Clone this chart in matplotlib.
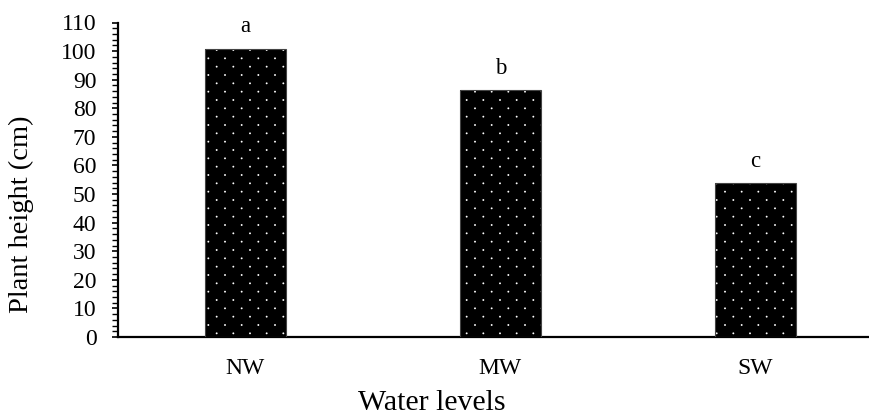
import numpy as np
import matplotlib
matplotlib.use("Agg")
import matplotlib.pyplot as plt
import matplotlib.hatch as mhatch
from matplotlib.path import Path
from matplotlib.ticker import MultipleLocator

# ---- data ----
categories = ["NW", "MW", "SW"]
heights = [100.8, 86.3, 53.8]
letters = ["a", "b", "c"]
y_ticks = list(range(0, 111, 10))

# ---- custom dot hatch (diamond lattice like the reference) ----
class DotLattice(mhatch.HatchPatternBase):
    radius = 0.0095

    def __init__(self, hatch, density):
        self.ncols = hatch.count('.') * 6
        self.nrows = self.ncols * 2
        self.circ = Path.unit_circle()
        if self.ncols == 0:
            self.num_vertices = 0
        else:
            n_even = self.nrows // 2 + 1
            n_odd = self.nrows // 2
            self.num_shapes = n_even * (self.ncols + 1) + n_odd * self.ncols
            self.num_vertices = self.num_shapes * len(self.circ.vertices)

    def set_vertices_and_codes(self, vertices, codes):
        step = 1.0 / self.ncols
        rstep = 1.0 / self.nrows
        sv = self.circ.vertices * self.radius
        vparts, cparts = [], []
        for row in range(self.nrows + 1):
            if row % 2 == 0:
                cols = np.linspace(0, 1, self.ncols + 1)
            else:
                cols = np.linspace(step / 2, 1 - step / 2, self.ncols)
            for c in cols:
                vparts.append(sv + [c, row * rstep])
                cparts.append(self.circ.codes)
        np.concatenate(vparts, out=vertices)
        np.concatenate(cparts, out=codes)

mhatch._hatch_types = [DotLattice if t is mhatch.SmallFilledCircles else t
                       for t in mhatch._hatch_types]

plt.rcParams['font.family'] = ['Liberation Serif', 'DejaVu Serif']
plt.rcParams['hatch.color'] = 'white'
plt.rcParams['hatch.linewidth'] = 0.0

fig = plt.figure(figsize=(8.70, 4.16), dpi=100)
ax = fig.add_axes([118/870, 1 - 337/416, 752/870, (337 - 22.5)/416])

x = np.arange(len(categories))
bw = 0.32
ax.bar(x, heights, width=bw, color='black', hatch='.', linewidth=0, zorder=2)
ax.bar(x, heights, width=bw, fill=False, edgecolor='#444444', linewidth=0.8, zorder=3)

for xi, h, l in zip(x, heights, letters):
    ax.annotate(l, (xi, h), xytext=(0, 12), textcoords='offset points',
                ha='center', va='baseline', fontsize=16.5)

ax.set_xlim(-0.5, 2.45)
ax.set_ylim(0, 110)
ax.set_yticks(y_ticks)
ax.yaxis.set_minor_locator(MultipleLocator(2))
ax.set_xticks(x)
ax.set_xticklabels(categories)

ax.tick_params(axis='y', which='major', direction='out', length=4.5, width=1.2,
               labelsize=17, pad=11)
ax.tick_params(axis='y', which='minor', direction='out', length=4.0, width=1.0)
ax.tick_params(axis='x', which='both', length=0, labelsize=17, pad=15)

for s in ['top', 'right']:
    ax.spines[s].set_visible(False)
for s in ['left', 'bottom']:
    ax.spines[s].set_linewidth(1.6)
    ax.spines[s].set_color('black')

ax.set_ylabel("Plant height (cm)", fontsize=20.5)
ax.set_xlabel("Water levels", fontsize=21.5)
ax.yaxis.set_label_coords(-0.128, 0.39)
ax.xaxis.set_label_coords(0.4176, -0.21)
ax.yaxis.label.set_va('center')
ax.xaxis.label.set_va('center')

fig.savefig("out.png", dpi=100)
